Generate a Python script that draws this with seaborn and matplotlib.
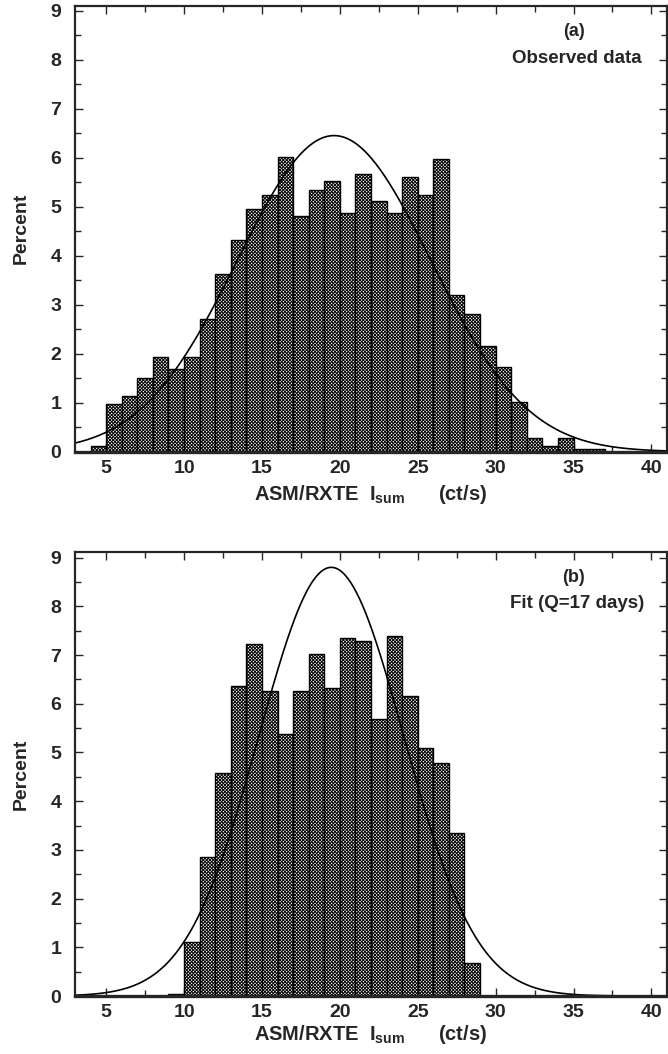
import numpy as np
import pandas as pd
import matplotlib
matplotlib.use("Agg")
import matplotlib.pyplot as plt
import seaborn as sns
from matplotlib.ticker import MultipleLocator

# panel (a): observed distribution, 1 ct/s bins starting at 4
obs_left = np.arange(4, 37)
obs_pct = [0.12, 0.97, 1.14, 1.50, 1.93, 1.68, 1.93, 2.70, 3.62, 4.33, 4.95,
           5.24, 6.02, 4.81, 5.35, 5.53, 4.88, 5.67, 5.12, 4.88, 5.60, 5.24,
           5.97, 3.20, 2.82, 2.16, 1.73, 1.02, 0.29, 0.12, 0.29, 0.05, 0.05]

# panel (b): model with Q = 17 days, bins starting at 9
fit_left = np.arange(9, 29)
fit_pct = [0.05, 1.10, 2.86, 4.58, 6.37, 7.22, 6.27, 5.38, 6.27, 7.02,
           6.32, 7.34, 7.28, 5.69, 7.39, 6.15, 5.10, 4.79, 3.34, 0.68]

# gaussian overlays (mean, sigma, peak in percent)
gauss_a = (19.63, 6.2, 6.45)
gauss_b = (19.45, 4.65, 8.80)

panel_tags = ["(a)", "(b)"]
panel_notes = ["Observed data", "Fit (Q=17 days)"]

sns.set_style("ticks")
plt.rcParams["font.family"] = ["Liberation Sans", "DejaVu Sans"]
plt.rcParams["mathtext.fontset"] = "custom"
plt.rcParams["mathtext.rm"] = "Liberation Sans:bold"
plt.rcParams["mathtext.bf"] = "Liberation Sans:bold"
plt.rcParams["hatch.linewidth"] = 0.7
plt.rcParams["hatch.color"] = "black"

fig = plt.figure(figsize=(6.68, 10.54), dpi=100)
ax_a = fig.add_axes([0.1123, 0.5714, 0.8862, 0.4232])
ax_b = fig.add_axes([0.1123, 0.0550, 0.8862, 0.4215])

xgrid = np.linspace(3, 41, 400)
panels = [
    (ax_a, obs_left, obs_pct, gauss_a, 9.10, 4),
    (ax_b, fit_left, fit_pct, gauss_b, 9.12, 1),
]

for i, (ax, left, pct, (mu, sig, peak), ytop, lpad) in enumerate(panels):
    df = pd.DataFrame({"x": left + 0.5, "pct": pct})
    sns.histplot(data=df, x="x", weights="pct", bins=len(left),
                 binrange=(int(left[0]), int(left[-1]) + 1),
                 color="white", edgecolor="black", linewidth=1.0,
                 alpha=1, ax=ax)
    for p in ax.patches:
        p.set_hatch("x" * 10)

    curve = pd.DataFrame({"x": xgrid, "y": peak * np.exp(-(xgrid - mu) ** 2 / (2 * sig ** 2))})
    sns.lineplot(data=curve, x="x", y="y", color="black", linewidth=1.2, ax=ax)

    ax.set_xlim(3, 41)
    ax.set_ylim(0, ytop)
    ax.xaxis.set_major_locator(MultipleLocator(5))
    ax.xaxis.set_minor_locator(MultipleLocator(2.5))
    ax.yaxis.set_major_locator(MultipleLocator(1))
    ax.yaxis.set_minor_locator(MultipleLocator(0.5))
    ax.tick_params(which="both", direction="in", top=True, right=True, width=1.0)
    ax.tick_params(which="major", length=6, labelsize=14)
    ax.tick_params(axis="y", which="major", pad=10)
    ax.tick_params(axis="x", which="major", pad=6)
    ax.tick_params(which="minor", length=4)
    for lab in ax.get_xticklabels() + ax.get_yticklabels():
        lab.set_fontweight("bold")
    ax.get_yticklabels()[0].set_va("bottom")
    for s in ax.spines.values():
        s.set_linewidth(1.6)
    ax.spines["bottom"].set_linewidth(2.4)

    ax.set_xlabel(r"ASM/RXTE  $\mathrm{I_{sum}}$      (ct/s)", fontsize=14.5,
                  fontweight="bold", labelpad=lpad)
    ax.set_ylabel("Percent", fontsize=14, fontweight="bold", labelpad=15)

    ax.text(35.0, ytop - 0.53, panel_tags[i], ha="center", va="center",
            fontsize=13, fontweight="bold")
    ax.text(35.2, ytop - 1.07, panel_notes[i], ha="center", va="center",
            fontsize=13.5, fontweight="bold")

fig.savefig("out.png", dpi=100)
